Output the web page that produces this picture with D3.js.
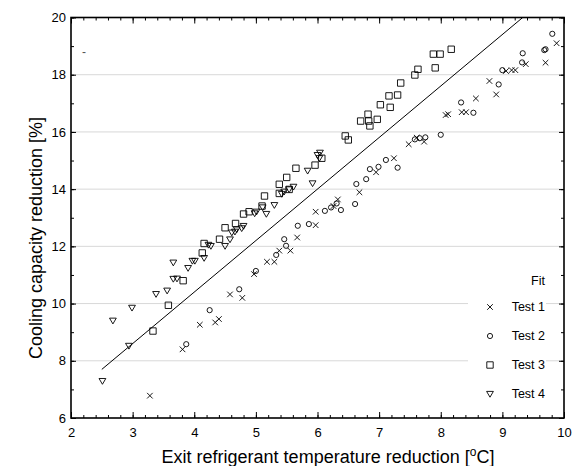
<!DOCTYPE html>
<html><head><meta charset="utf-8">
<script src="https://cdn.jsdelivr.net/npm/d3@7"></script>
<style>body{margin:0;background:#fff} svg{display:block} text{font-family:Arial,"Liberation Sans",sans-serif}</style>
</head><body><svg id="c" width="576" height="466"></svg>
<script>
const test1 = [[3.28,6.78],[3.81,8.40],[4.09,9.26],[4.34,9.34],[4.40,9.46],[4.58,10.32],[4.78,10.20],[4.97,11.03],[5.18,11.46],[5.30,11.46],[5.38,11.85],[5.56,11.85],[5.67,12.31],[5.97,12.74],[5.97,13.21],[6.26,13.41],[6.33,13.64],[6.68,13.89],[6.95,14.59],[7.24,15.08],[7.48,15.57],[7.61,15.80],[7.73,15.66],[8.08,16.59],[8.12,16.62],[8.34,16.69],[8.41,16.69],[8.57,17.17],[8.79,17.78],[8.90,17.31],[9.06,18.13],[9.15,18.16],[9.21,18.16],[9.38,18.37],[9.70,18.42],[9.88,19.10]];
const test2 = [[3.87,8.58],[4.25,9.77],[4.73,10.50],[5.00,11.14],[5.33,11.70],[5.46,12.25],[5.49,12.02],[5.68,12.72],[5.86,12.78],[6.12,13.24],[6.22,13.36],[6.31,13.50],[6.38,13.27],[6.61,13.48],[6.63,14.18],[6.79,14.35],[6.85,14.70],[6.99,14.78],[7.11,15.02],[7.30,14.75],[7.58,15.74],[7.66,15.78],[7.75,15.81],[8.00,15.90],[8.33,17.03],[8.53,16.67],[8.94,17.66],[9.00,18.16],[9.32,18.43],[9.33,18.75],[9.68,18.86],[9.70,18.89],[9.81,19.43]];
const test3 = [[3.33,9.04],[3.58,9.94],[3.82,10.80],[4.13,11.77],[4.16,12.10],[4.41,12.25],[4.50,12.65],[4.67,12.80],[4.80,13.13],[4.89,13.21],[5.10,13.41],[5.14,13.76],[5.38,13.85],[5.38,14.17],[5.50,14.41],[5.54,13.99],[5.65,14.73],[5.96,14.84],[6.07,15.08],[6.45,15.86],[6.50,15.72],[6.70,16.38],[6.82,16.62],[6.83,16.38],[6.85,16.21],[6.97,16.44],[7.02,16.95],[7.16,17.26],[7.18,16.86],[7.30,17.29],[7.35,17.71],[7.58,17.99],[7.63,18.19],[7.88,18.72],[7.91,18.24],[7.99,18.72],[8.17,18.89]];
const test4 = [[2.51,7.29],[2.68,9.40],[2.94,8.52],[2.99,9.85],[3.38,10.33],[3.56,10.45],[3.66,11.43],[3.66,10.86],[3.72,10.87],[3.90,11.24],[3.97,11.49],[4.01,11.49],[4.16,11.59],[4.23,12.05],[4.27,12.01],[4.50,12.01],[4.58,12.24],[4.61,12.48],[4.66,12.51],[4.69,12.59],[4.77,12.63],[4.80,12.71],[4.98,13.15],[5.01,13.21],[5.11,13.36],[5.17,13.13],[5.30,13.44],[5.42,13.83],[5.46,13.91],[5.54,13.99],[5.61,14.08],[5.84,14.64],[5.92,14.20],[6.00,15.19],[6.03,15.08],[6.04,15.27]];
const fitX = [2.5, 9.33];
const fitY = [7.70, 20.0];
const seriesNames = ["Test 1","Test 2","Test 3","Test 4"];
const xTicks = [2,3,4,5,6,7,8,9,10];
const yTicks = [6,8,10,12,14,16,18,20];
const gridY = [8,10,12,14,16,18];

const svg = d3.select("#c");
const L=71, R=564, T=17.5, B=418;
const x = d3.scaleLinear().domain([2,10]).range([L,R]);
const y = d3.scaleLinear().domain([6,20]).range([B,T]);

// grid
svg.append("g").selectAll("line").data(gridY).join("line")
  .attr("x1",L).attr("x2",R).attr("y1",d=>y(d)).attr("y2",d=>y(d))
  .attr("stroke","#d8d8d8").attr("stroke-width",1);

// legend background (hides grid)
svg.append("rect").attr("x",468).attr("y",262).attr("width",78).attr("height",145).attr("fill","#fff");

function styleAxis(g){ g.select(".domain").remove(); g.selectAll("line").attr("stroke","#000"); g.selectAll("text").attr("font-size",13).attr("fill","#000").attr("font-family","Arial, 'Liberation Sans', sans-serif"); }

const xMinor = d3.range(2,10.001,0.2);
const yMinor = d3.range(6,20.001,1);
// bottom
svg.append("g").attr("transform",`translate(0,${B})`).call(d3.axisBottom(x).tickValues(xMinor).tickSize(-3).tickFormat("")).call(styleAxis);
svg.append("g").attr("transform",`translate(0,${B})`).call(d3.axisBottom(x).tickValues(xTicks).tickSize(-6).tickPadding(10).tickFormat(d3.format("d"))).call(styleAxis);
// top
svg.append("g").attr("transform",`translate(0,${T})`).call(d3.axisTop(x).tickValues(xMinor).tickSize(-3).tickFormat("")).call(styleAxis);
svg.append("g").attr("transform",`translate(0,${T})`).call(d3.axisTop(x).tickValues(xTicks).tickSize(-6).tickFormat("")).call(styleAxis);
// left
svg.append("g").attr("transform",`translate(${L},0)`).call(d3.axisLeft(y).tickValues(yMinor).tickSize(-3).tickFormat("")).call(styleAxis);
svg.append("g").attr("transform",`translate(${L},0)`).call(d3.axisLeft(y).tickValues(yTicks).tickSize(-5).tickPadding(5).tickFormat(d3.format("d"))).call(styleAxis);
// right
svg.append("g").attr("transform",`translate(${R},0)`).call(d3.axisRight(y).tickValues(yMinor).tickSize(-3).tickFormat("")).call(styleAxis);
svg.append("g").attr("transform",`translate(${R},0)`).call(d3.axisRight(y).tickValues(yTicks).tickSize(-5).tickFormat("")).call(styleAxis);

// frame
svg.append("rect").attr("x",L).attr("y",T).attr("width",R-L).attr("height",B-T)
  .attr("fill","none").attr("stroke","#000").attr("stroke-width",1.6);

// fit line
svg.append("line").attr("x1",x(fitX[0])).attr("y1",y(fitY[0])).attr("x2",x(fitX[1])).attr("y2",y(fitY[1]))
  .attr("stroke","#000").attr("stroke-width",1);

// symbols
const sym = {
  "Test 1": "M-2.8,-2.8L2.8,2.8M-2.8,2.8L2.8,-2.8",
  "Test 2": "M2.6,0A2.6,2.6 0 1,1 -2.6,0A2.6,2.6 0 1,1 2.6,0Z",
  "Test 3": "M-3.2,-3.2H3.2V3.2H-3.2Z",
  "Test 4": "M-3.4,-2.6H3.4L0,3.2Z"
};
const allData = [test1,test2,test3,test4];
allData.forEach((data,i)=>{
  svg.append("g").selectAll("path").data(data).join("path")
    .attr("transform",d=>`translate(${x(d[0])},${y(d[1])})`)
    .attr("d",sym[seriesNames[i]]).attr("fill","none").attr("stroke","#000").attr("stroke-width",0.9);
});

// legend
const lg = svg.append("g");
lg.append("text").attr("x",545).attr("y",285).attr("text-anchor","end").attr("font-size",12.5).text("Fit");
seriesNames.forEach((n,i)=>{
  const yy = 311 + i*29;
  lg.append("path").attr("transform",`translate(490,${yy-4})`).attr("d",sym[n]).attr("fill","none").attr("stroke","#000").attr("stroke-width",0.9);
  lg.append("text").attr("x",545).attr("y",yy).attr("text-anchor","end").attr("font-size",12.5).text(n);
});

// small dash mark
svg.append("text").attr("x",84).attr("y",56).attr("text-anchor","middle").attr("font-size",12).attr("fill","#555").text("-");

// axis titles
const xt = svg.append("text").attr("x",328).attr("y",463).attr("text-anchor","middle").attr("font-size",18);
xt.append("tspan").text("Exit refrigerant temperature reduction [");
xt.append("tspan").attr("font-size",12).attr("dy",-7).text("o");
xt.append("tspan").attr("dy",7).text("C]");
svg.append("text").attr("transform","translate(42,238) rotate(-90)").attr("text-anchor","middle").attr("font-size",18).text("Cooling capacity reduction [%]");
</script></body></html>
